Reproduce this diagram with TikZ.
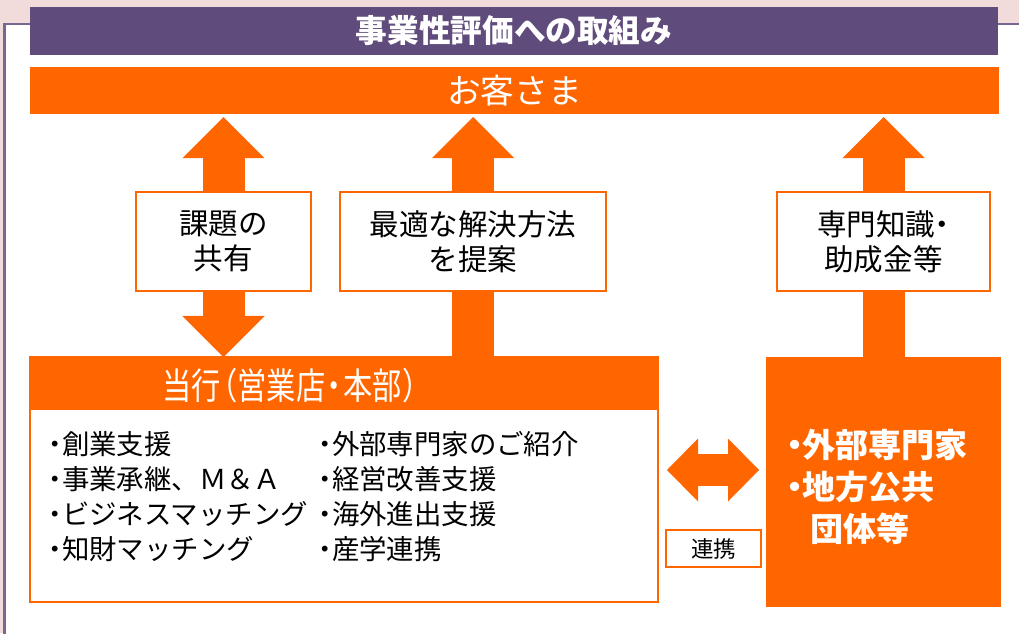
\documentclass[tikz,border=0pt]{standalone}
\usepackage{fontspec}
\setmainfont{Noto Sans CJK JP}
\newfontfamily\narrowjp[FakeStretch=0.8]{Noto Sans CJK JP}
\usepackage{xcolor}
\usepackage{tikz}
\usetikzlibrary{arrows.meta, positioning, backgrounds, calc}
\definecolor{kaiorange}{HTML}{FF6600}
\definecolor{kaipurple}{HTML}{604C7C}
\definecolor{kaipink}{HTML}{F2DCDB}
\newlength\pxl
\setlength\pxl{0.025cm}
\newcommand\kaidot{\makebox[0.5em][c]{・}}

\begin{document}
\begin{tikzpicture}[x=0.025cm, y=-0.025cm,
    bar/.style={fill=kaiorange, text=white, inner sep=0pt, outer sep=0pt},
    topicbox/.style={draw=kaiorange, line width=1.5\pxl, fill=white, inner sep=0pt,
      align=center, minimum height=99\pxl, font={\fontsize{21pt}{24.8pt}\selectfont}},
    listtext/.style={anchor=west, align=left, inner sep=0pt,
      font={\fontsize{19.5pt}{24.8pt}\selectfont}},
    upblk/.style={kaiorange, line width=42\pxl,
      -{Triangle[length=1.025cm, width=2.05cm, line width=0pt]}},
    bothblk/.style={kaiorange, line width=42\pxl,
      {Triangle[length=1.025cm, width=2.05cm, line width=0pt]}-{Triangle[length=1.025cm, width=2.05cm, line width=0pt]}},
    sideblk/.style={kaiorange, line width=32\pxl,
      {Triangle[length=0.775cm, width=1.575cm, line width=0pt]}-{Triangle[length=0.775cm, width=1.575cm, line width=0pt]}}
  ]
  \useasboundingbox (0, 0) rectangle (1019, 633);
  % Page and panel
  \begin{scope}[on background layer]
    \fill[kaipink] (0, 0) rectangle (1019, 633);
    \draw[kaipurple!85, line width=2.5\pxl, fill=white]
      (4.5, 24) rectangle (1040, 660);
  \end{scope}
  % Title bar
  \node[fill=kaipurple, text=white, inner sep=0pt, minimum width=968\pxl, minimum height=48\pxl,
    font={\fontsize{22.5pt}{22.5pt}\selectfont\bfseries}]
    (title) at (514, 31) {事業性評価への取組み};
  % Customer bar
  \node[bar, minimum width=969\pxl, minimum height=47\pxl,
    font={\fontsize{24pt}{24pt}\selectfont}]
    (okyaku) at (514.5, 90.5) {お客さま};
  \coordinate (okyakugap) at ([yshift=-3\pxl]okyaku.south);
  % Topic boxes
  \node[topicbox, minimum width=175\pxl] (kadai) at (223.5, 241.5) {課題の\\共有};
  \node[topicbox, minimum width=266\pxl] (teian) at (473, 241.5) {最適な解決方法\\を提案};
  \node[topicbox, minimum width=213\pxl] (senmon) at (883.5, 241.5) {専門知識\kaidot\\助成金等};
  % Bank box
  \node[draw=kaiorange, line width=1.5\pxl, fill=white, inner sep=0pt, outer sep=0pt,
    minimum width=628\pxl, minimum height=245\pxl]
    (touhou) at (344, 479.5) {};
  \node[bar, anchor=north, minimum width=628\pxl, minimum height=53\pxl]
    (touhouhead) at (touhou.north) {};
  \node[text=white, inner sep=0pt, font={\narrowjp\fontsize{26pt}{26pt}\selectfont}]
    (touhoulbl) at (297, 386) {当行\kern-0.35em（営業店\kaidot 本部）};
  \node[listtext] (leftlist) at (48, 496.5)
    {\kaidot 創業支援\\\kaidot 事業承継、Ｍ＆Ａ\\\kaidot ビジネスマッチング\\\kaidot 知財マッチング};
  \node[listtext] (rightlist) at (318, 496.5)
    {\kaidot 外部専門家のご紹介\\\kaidot 経営改善支援\\\kaidot 海外進出支援\\\kaidot 産学連携};
  % Partner box
  \node[bar, minimum width=235\pxl, minimum height=250\pxl]
    (gaibu) at (883.5, 482) {};
  \node[anchor=west, align=left, text=white, inner sep=0pt,
    font={\fontsize{23.5pt}{29.8pt}\selectfont\bfseries}]
    (gaibulist) at (786, 487) {\kaidot 外部専門家\\\kaidot 地方公共\\\hspace{24\pxl}団体等};
  % Link label
  \node[draw=kaiorange, line width=1.5\pxl, fill=white, inner sep=0pt,
    minimum width=95\pxl, minimum height=37\pxl, font={\fontsize{16pt}{16pt}\selectfont}]
    (renkei) at (713.5, 548.5) {連携};
  \coordinate (lnkleft) at (667, 470);
  \coordinate (lnkright) at (759, 470);
  % Block arrows
  \begin{scope}[on background layer]
    \draw[bothblk] (kadai.center |- okyakugap) -- (kadai.center |- touhou.north);
    \draw[upblk] (teian.center |- touhou.north) -- (teian.center |- okyakugap);
    \draw[upblk] (gaibu.north) -- (gaibu.north |- okyakugap);
    \draw[sideblk] (lnkleft) -- (lnkright);
  \end{scope}
\end{tikzpicture}
\end{document}
